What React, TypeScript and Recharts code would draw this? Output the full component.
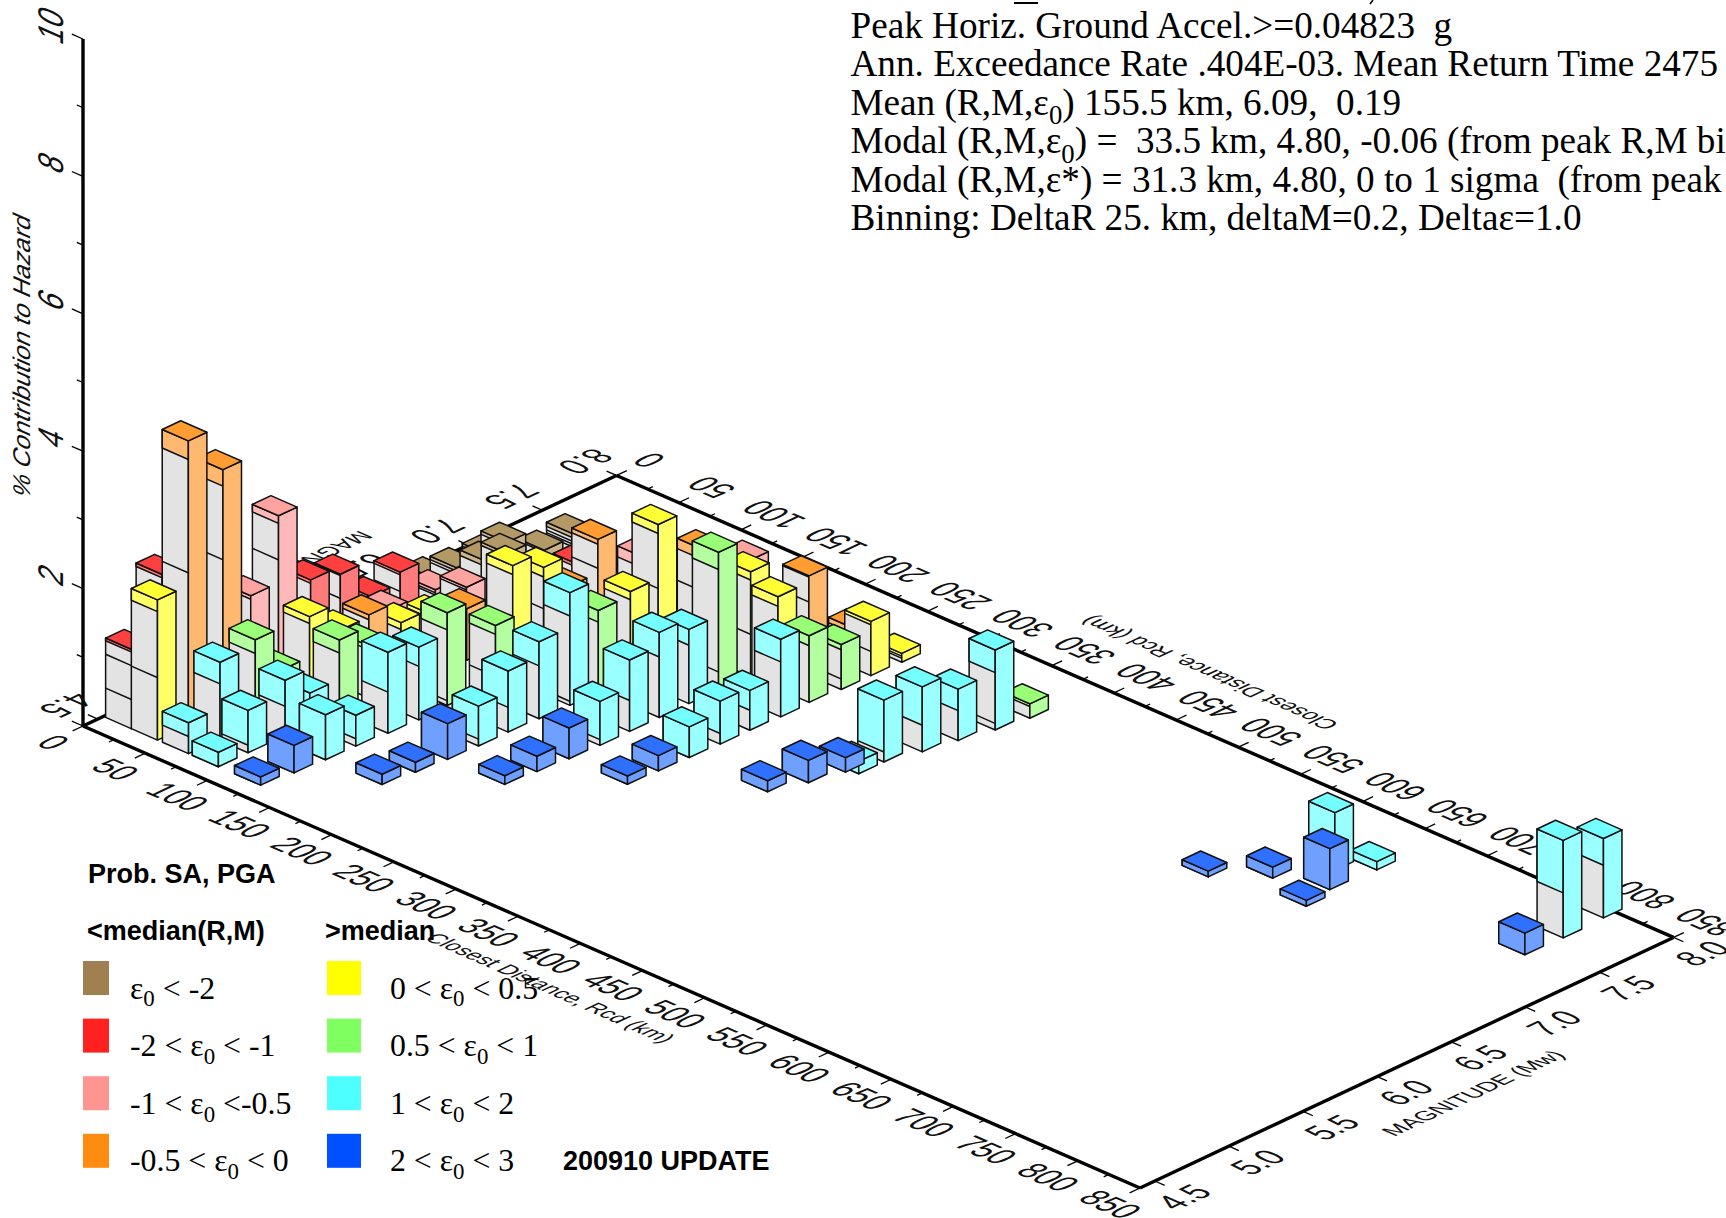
import { ScatterChart, Scatter, XAxis, YAxis } from "recharts";

// one row per column: [distance km, magnitude, total %, boundaries between stacked bins...]
const brownBars = [
  [57, 7.2, 0.56, 0.5, 0.45, 0.41, 0.37],
  [58, 7.0, 0.53, 0.5],
  [52, 6.8, 0.8, 0.75],
  [37, 6.8, 0.5, 0.46, 0.42],
  [76, 6.6, 1.03, 0.98],
  [59, 6.6, 0.78, 0.7],
  [14, 6.6, 0.2],
  [35, 6.6, 0.5, 0.45, 0.41],
];
const redBars = [
  [12.3, 4.6, 1.155, 1.116, 0.92, 0.427],
  [13, 4.8, 2.05, 2.0],
  [37, 5.6, 1.35, 1.3, 0.8],
  [37, 5.8, 1.23, 1.21, 0.88],
  [38, 6.0, 0.71, 0.62],
  [37.5, 6.2, 0.86, 0.82, 0.58],
  [110, 6.8, 0.93, 0.88],
];
const pinkBars = [
  [36.5, 5.2, 1.52, 1.47],
  [35, 5.4, 2.47, 2.36, 1.83],
  [52, 6.0, 0.62, 0.58],
  [42, 6.4, 0.435, 0.39, 0.36],
  [67, 6.4, 0.67, 0.63],
  [199.5, 7.2, 1.3, 1.2],
  [138, 7.0, 1.06, 0.9],
];
const orangeBars = [
  [34, 4.8, 4.16, 3.89, 2.24],
  [38, 5.0, 3.57, 3.33, 2.26],
  [60, 5.8, 0.82, 0.75],
  [91, 6.2, 0.75, 0.69],
  [125, 6.6, 0.93, 0.88],
  [125, 6.8, 1.42, 1.35, 1.0],
  [186, 7.0, 1.55, 1.4, 0.94],
  [247, 7.2, 1.45, 1.43, 1.07],
  [260, 7.4, 0.58, 0.5],
];
const yellowBars = [
  [33, 4.6, 2.04, 1.87, 0.91],
  [60, 5.4, 1.2, 1.1],
  [61, 5.6, 0.81, 0.72],
  [62, 6.0, 0.52, 0.42],
  [63, 6.2, 0.44, 0.38],
  [128, 6.2, 1.67, 1.54],
  [129, 6.4, 1.45, 1.31, 0.85],
  [175, 6.6, 1.26, 1.14],
  [173.5, 6.8, 2.02, 1.89, 1.09],
  [224, 7.0, 1.53, 1.41, 0.62],
  [246, 7.0, 1.34, 1.2],
  [273, 7.4, 0.79, 0.74, 0.354],
  [274, 7.6, 0.13, 0.09, 0.06],
];
const greenBars = [
  [64, 5.0, 1.3, 1.1],
  [61, 5.2, 0.63, 0.55],
  [84, 5.4, 1.05, 0.86],
  [80, 5.6, 0.76, 0.7],
  [123, 5.8, 1.35, 1.1, 0.07],
  [138, 6.0, 1.08, 0.95, 0.34],
  [173, 6.4, 1.17, 1.0],
  [222, 6.8, 2.0, 1.75, 0.26],
  [271, 7.0, 0.97, 0.825],
  [273, 7.2, 0.655, 0.58, 0.155],
  [377, 7.6, 0.21, 0.17],
];
const cyanBars = [
  [59.5, 4.8, 1.14, 0.825],
  [58, 4.6, 0.45, 0.25],
  [82, 4.8, 0.617, 0.11],
  [82, 4.6, 0.21],
  [88, 5.0, 0.9, 0.52],
  [120.5, 5.0, 0.655],
  [121, 5.2, 0.45, 0.107],
  [84, 5.2, 0.48],
  [123, 5.4, 1.18, 0.6],
  [124, 5.6, 1.06, 0.78],
  [172, 5.6, 0.58, 0.1],
  [172, 5.8, 0.89, 0.36],
  [173, 6.0, 1.12, 0.77],
  [174, 6.2, 1.64, 1.3, 0.06],
  [222, 6.0, 0.64, 0.083],
  [222, 6.2, 1.04, 0.45],
  [222, 6.4, 1.24, 0.88],
  [222, 6.6, 1.08, 0.85],
  [270, 6.2, 0.447],
  [271, 6.4, 0.626, 0.155],
  [271, 6.6, 0.58, 0.29],
  [272, 6.8, 1.13, 0.8],
  [355, 6.63, 0.18],
  [355, 6.8, 0.9, 0.145],
  [362, 7.0, 0.946, 0.388],
  [367, 7.2, 0.75, 0.437],
  [373, 7.4, 1.165, 0.835, 0.097],
  [639, 7.46, 0.84],
  [656, 7.6, 0.12],
  [794, 7.7, 1.42, 0.655],
  [793, 7.98, 1.155, 0.767],
];
const blueBars = [
  [116, 4.6, 0.12],
  [119, 4.8, 0.4],
  [166, 5.0, 0.15],
  [169, 5.2, 0.146],
  [171, 5.4, 0.52],
  [217, 5.4, 0.126],
  [219, 5.6, 0.223],
  [221, 5.8, 0.447],
  [268, 5.8, 0.12],
  [269, 6.0, 0.223],
  [333, 6.2, 0.16],
  [342, 6.4, 0.325],
  [348, 6.6, 0.21],
  [592, 7.0, 0.083],
  [620, 7.2, 0.16],
  [659, 7.1, 0.087],
  [654, 7.3, 0.597],
  [793, 7.45, 0.315],
];

const rLabels = [0, 50, 100, 150, 200, 250, 300, 350, 400, 450, 500, 550, 600, 650, 700, 750, 800, 850];
const rMinor = [25, 75, 125, 175, 225, 275, 325, 375, 425, 475, 525, 575, 625, 675, 725, 775, 825];
const mLabels = ["4.5", "5.0", "5.5", "6.0", "6.5", "7.0", "7.5", "8.0"];
const zLabels = [2, 4, 6, 8, 10];
const zMinor = [1, 3, 5, 7, 9];

const headerLines = [
  "Peak Horiz. Ground Accel.>=0.04823  g",
  "Ann. Exceedance Rate .404E-03. Mean Return Time 2475",
  "Mean (R,M,ε_0) 155.5 km, 6.09,  0.19",
  "Modal (R,M,ε_0) =  33.5 km, 4.80, -0.06 (from peak R,M bi",
  "Modal (R,M,ε*) = 31.3 km, 4.80, 0 to 1 sigma  (from peak",
  "Binning: DeltaR 25. km, deltaM=0.2, Deltaε=1.0",
];
const legendLow = ["ε_0 < -2", "-2 < ε_0 < -1", "-1 < ε_0 <-0.5", "-0.5 < ε_0 < 0"];
const legendHigh = ["0 < ε_0 < 0.5", "0.5 < ε_0 < 1", "1 < ε_0 < 2", "2 < ε_0 < 3"];

const WIDTH = 1726;
const HEIGHT = 1218;
const SERIF = "'Liberation Serif'";
const SANS = "'Liberation Sans'";

// the floor plane of the 3D box, in chart units per km / per magnitude unit
const ORIGIN = [83, 726];
const R_VEC = [1.2435, 0.5435];
const M_VEC = [148.2, -69.6];
const M_MIN = 4.4;
const Z_UNIT = 68.7;
const R_DIR = [0.9163, 0.4005];
const M_DIR = [0.9053, -0.4251];
const HALF_R = 10.5;
const HALF_M = 0.0625;

const planeX = (r: number, m: number) => ORIGIN[0] + r * R_VEC[0] + (m - M_MIN) * M_VEC[0];
const planeY = (r: number, m: number) => ORIGIN[1] + r * R_VEC[1] + (m - M_MIN) * M_VEC[1];

const palette = {
  brown: { top: "#b39966", side: "#ccb58c", key: "#a08050" },
  red: { top: "#ff4040", side: "#ff7a7a", key: "#ff2020" },
  pink: { top: "#ffa3a0", side: "#ffb8b8", key: "#ff9590" },
  orange: { top: "#ff9d33", side: "#ffb870", key: "#ff8c10" },
  yellow: { top: "#ffff33", side: "#ffff66", key: "#ffff00" },
  green: { top: "#99ff77", side: "#b3ff9f", key: "#80ff60" },
  cyan: { top: "#73ffff", side: "#99ffff", key: "#4dffff" },
  blue: { top: "#3070ff", side: "#70a0ff", key: "#0050ff" },
};

const toBars = (rows: number[][], colors: { top: string; side: string }) =>
  rows.map(([r, m, total, ...cuts]) => ({
    r,
    m,
    total,
    cuts,
    colors,
    x: planeX(r, m),
    y: planeY(r, m),
  }));

// far columns first so the near ones paint over them
const allBars = [
  ...toBars(brownBars, palette.brown),
  ...toBars(redBars, palette.red),
  ...toBars(pinkBars, palette.pink),
  ...toBars(orangeBars, palette.orange),
  ...toBars(yellowBars, palette.yellow),
  ...toBars(greenBars, palette.green),
  ...toBars(cyanBars, palette.cyan),
  ...toBars(blueBars, palette.blue),
].sort((a, b) => b.m - a.m || a.r - b.r);

const pts = (list: number[][]) => list.map((p) => p.join(",")).join(" ");

function Column3D({ cx, cy, payload }: any) {
  const { total, cuts, colors } = payload;
  const er = [HALF_R * R_VEC[0], HALF_R * R_VEC[1]];
  const em = [HALF_M * M_VEC[0], HALF_M * M_VEC[1]];
  const left = [cx - er[0] - em[0], cy - er[1] - em[1]];
  const front = [cx + er[0] - em[0], cy + er[1] - em[1]];
  const right = [cx + er[0] + em[0], cy + er[1] + em[1]];
  const back = [cx - er[0] + em[0], cy - er[1] + em[1]];
  const up = (p: number[], v: number) => [p[0], p[1] - v * Z_UNIT];
  const split = cuts.length ? cuts[0] : 0;
  const edge = { stroke: "#111", strokeWidth: 1.5, strokeLinejoin: "round" as const };
  return (
    <g>
      <polygon points={pts([left, front, up(front, total), up(left, total)])} fill="#e3e3e3" {...edge} />
      <polygon
        points={pts([up(left, split), up(front, split), up(front, total), up(left, total)])}
        fill={colors.side}
        {...edge}
      />
      {cuts.slice(1).map((c: number) => (
        <line
          key={c}
          x1={left[0]}
          y1={left[1] - c * Z_UNIT}
          x2={front[0] + 2}
          y2={front[1] - c * Z_UNIT + 1}
          {...edge}
        />
      ))}
      <polygon points={pts([front, right, up(right, total), up(front, total)])} fill={colors.side} {...edge} />
      <polygon
        points={pts([up(left, total), up(front, total), up(right, total), up(back, total)])}
        fill={colors.top}
        {...edge}
      />
    </g>
  );
}

const Blank = () => null;

// tick stroke plus a label lying in the plane of the floor or the back wall
function AxisMark({ cx, cy, payload }: any) {
  const { dx, dy, label, lx, ly, base, down } = payload;
  return (
    <g>
      {dx !== undefined && <line x1={cx} y1={cy} x2={cx + dx} y2={cy + dy} stroke="#000" strokeWidth={1.3} />}
      {label !== undefined && (
        <text
          transform={`matrix(${base[0]} ${base[1]} ${down[0]} ${down[1]} ${cx + lx} ${cy + ly})`}
          textAnchor="middle"
          dominantBaseline="central"
          fontFamily={SANS}
          fontSize={payload.size}
          fill="#111"
        >
          {label}
        </text>
      )}
    </g>
  );
}

const scaled = (v: number[], s: number) => [v[0] * s, v[1] * s];
const FRONT_R = { base: scaled(R_DIR, 1.0), down: scaled(M_DIR, -1.2), size: 30 };
const BACK_R = { base: scaled(R_DIR, -1.0), down: scaled(M_DIR, 1.2), size: 30 };
const FRONT_M = { base: scaled(M_DIR, 1.0), down: scaled(R_DIR, 1.2), size: 30 };
const BACK_M = { base: scaled(M_DIR, -1.0), down: scaled(R_DIR, -1.2), size: 30 };
const WALL = { base: [0, -0.95], down: scaled(R_DIR, 1.3), size: 30 };

const alongM = (k: number) => [k * M_VEC[0], k * M_VEC[1]];
const alongR = (k: number) => [k * R_VEC[0], k * R_VEC[1]];

const rMarks = (m: number, sign: number, style: any, nudge: number[]) => [
  ...rLabels.map((r) => {
    const t = alongM(sign * 0.07);
    const l = alongM(sign * 0.22);
    return {
      x: planeX(r, m),
      y: planeY(r, m),
      dx: t[0],
      dy: t[1],
      label: r,
      lx: l[0] + nudge[0],
      ly: l[1] + nudge[1],
      ...style,
    };
  }),
  ...rMinor.map((r) => {
    const t = alongM(sign * 0.035);
    return { x: planeX(r, m), y: planeY(r, m), dx: t[0], dy: t[1] };
  }),
];

const frontMMarks = mLabels.map((label) => {
  const m = Number(label);
  const t = alongR(8);
  return { x: planeX(850, m), y: planeY(850, m), dx: t[0], dy: t[1], label, lx: 29, ly: 16, ...FRONT_M };
});
const backMMarks = mLabels.map((label) => {
  const m = Number(label);
  const t = alongR(-8);
  return { x: planeX(0, m), y: planeY(0, m), dx: t[0], dy: t[1], label, lx: -31, ly: -14, ...BACK_M };
});
const zMarks = [
  { x: ORIGIN[0], y: ORIGIN[1], dx: alongR(-9)[0], dy: alongR(-9)[1] },
  ...zLabels.map((z) => {
    const t = alongR(-9);
    const l = alongR(-26);
    return {
      x: ORIGIN[0],
      y: ORIGIN[1] - z * Z_UNIT,
      dx: t[0],
      dy: t[1],
      label: z,
      lx: l[0],
      ly: l[1],
      ...WALL,
    };
  }),
  ...zMinor.map((z) => {
    const t = alongR(-5);
    return { x: ORIGIN[0], y: ORIGIN[1] - z * Z_UNIT, dx: t[0], dy: t[1] };
  }),
];

const axisPaths = [
  [[0, 4.4], [850, 4.4]],
  [[850, 4.4], [850, 8.0]],
  [[850, 8.0], [0, 8.0]],
  [[0, 8.0], [0, 4.4]],
].map((seg) => seg.map(([r, m]) => ({ x: planeX(r, m), y: planeY(r, m) })));
const zAxisPath = [
  { x: ORIGIN[0], y: ORIGIN[1] },
  { x: ORIGIN[0], y: ORIGIN[1] - 10 * Z_UNIT },
];

const titleStyle = (style: any) => ({ ...style, size: 20 });
const backMTitle = [
  { x: 281, y: 574, label: "MAGNITUDE (Mw)", lx: 0, ly: 0, ...titleStyle({ base: scaled(M_DIR, -1.12), down: scaled(R_DIR, -1.15) }) },
];
const backRTitle = [
  { x: 1209, y: 673, label: "Closest Distance, Rcd (km)", lx: 0, ly: 0, ...titleStyle({ base: scaled(R_DIR, -1.12), down: scaled(M_DIR, 1.15) }) },
];
const frontTitles = [
  { x: 550, y: 988, label: "Closest Distance, Rcd (km)", lx: 0, ly: 0, ...titleStyle({ base: scaled(R_DIR, 1.08), down: scaled(M_DIR, -1.15) }) },
  { x: 1473, y: 1093, label: "MAGNITUDE (Mw)", lx: 0, ly: 0, ...titleStyle({ base: scaled(M_DIR, 1.12), down: scaled(R_DIR, 1.15) }) },
  { x: 22, y: 355, label: "% Contribution to Hazard", lx: 0, ly: 0, size: 24, base: [0, -1.05], down: scaled(R_DIR, 1.1) },
];

// "ε_0" in the strings marks a subscript zero
function SubText({ text, x, y, size }: { text: string; x: number; y: number; size: number }) {
  const parts = text.split("_0");
  return (
    <text x={x} y={y} fontFamily={SERIF} fontSize={size} fill="#000" style={{ whiteSpace: "pre" }}>
      {parts.map((p, i) =>
        i === 0 ? (
          <tspan key={i}>{p}</tspan>
        ) : (
          [
            <tspan key={`s${i}`} dy={size * 0.25} fontSize={size * 0.72}>
              0
            </tspan>,
            <tspan key={i} dy={-size * 0.25}>
              {p}
            </tspan>,
          ]
        ),
      )}
    </text>
  );
}

function KeyColumn({ labels, colors, swatchX, swatchW, textX }: any) {
  return (
    <g>
      {labels.map((label: string, i: number) => (
        <g key={label}>
          <rect x={swatchX} y={961 + i * 57.6} width={swatchW} height={34} fill={colors[i]} />
          <SubText text={label} x={textX} y={998.5 + i * 57.6} size={31.8} />
        </g>
      ))}
    </g>
  );
}

const boldText = (x: number, y: number, label: string) => (
  <text x={x} y={y} fontFamily={SANS} fontWeight="bold" fontSize={27} fill="#000">
    {label}
  </text>
);

export default function App() {
  return (
    <div style={{ position: "absolute", left: 0, top: 0, width: WIDTH, height: HEIGHT, background: "#fff", overflow: "hidden" }}>
      <ScatterChart width={WIDTH} height={HEIGHT} margin={{ top: 0, right: 0, bottom: 0, left: 0 }}>
        <XAxis type="number" dataKey="x" domain={[0, WIDTH]} hide />
        <YAxis type="number" dataKey="y" domain={[0, HEIGHT]} reversed hide />

        {axisPaths.map((seg, i) => (
          <Scatter
            key={i}
            data={seg}
            line={{ stroke: "#000", strokeWidth: 3.4 }}
            shape={Blank}
            isAnimationActive={false}
          />
        ))}
        <Scatter data={zAxisPath} line={{ stroke: "#000", strokeWidth: 3.4 }} shape={Blank} isAnimationActive={false} />
        <Scatter data={rMarks(4.4, -1, FRONT_R, [3, 1])} shape={AxisMark} isAnimationActive={false} />
        <Scatter data={rMarks(8.0, 1, BACK_R, [0, 0])} shape={AxisMark} isAnimationActive={false} />
        <Scatter data={frontMMarks} shape={AxisMark} isAnimationActive={false} />
        <Scatter data={backMMarks} shape={AxisMark} isAnimationActive={false} />
        <Scatter data={zMarks} shape={AxisMark} isAnimationActive={false} />
        <Scatter data={backMTitle} shape={AxisMark} isAnimationActive={false} />
        <Scatter data={backRTitle} shape={AxisMark} isAnimationActive={false} />

        <Scatter data={allBars} shape={Column3D} isAnimationActive={false} />

        {boldText(88, 883, "Prob. SA, PGA")}
        {boldText(87, 940, "<median(R,M)")}
        {boldText(325, 940, ">median")}
        {boldText(563, 1170, "200910 UPDATE")}
        <KeyColumn
          labels={legendLow}
          colors={[palette.brown.key, palette.red.key, palette.pink.key, palette.orange.key]}
          swatchX={83}
          swatchW={26}
          textX={130}
        />
        <KeyColumn
          labels={legendHigh}
          colors={[palette.yellow.key, palette.green.key, palette.cyan.key, palette.blue.key]}
          swatchX={327}
          swatchW={34}
          textX={390}
        />

        <Scatter data={frontTitles} shape={AxisMark} isAnimationActive={false} />

        {headerLines.map((line, i) => (
          <SubText key={line} text={line} x={850.5} y={38 + i * 38.4} size={37.2} />
        ))}
        <line x1={1014} y1={3} x2={1038} y2={3} stroke="#000" strokeWidth={2} />
        <line x1={1373} y1={0} x2={1370} y2={4} stroke="#000" strokeWidth={1.5} />
      </ScatterChart>
    </div>
  );
}
